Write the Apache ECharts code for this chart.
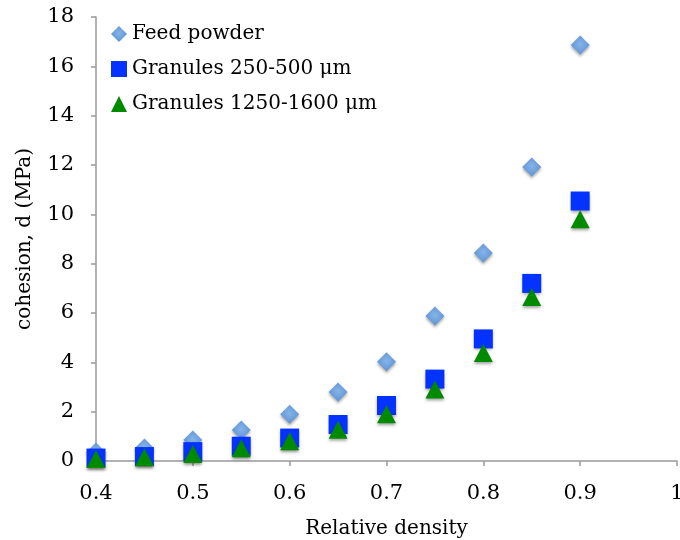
<!DOCTYPE html>
<html>
<head>
<meta charset="utf-8">
<script src="https://cdn.jsdelivr.net/npm/echarts@6/dist/echarts.min.js"></script>
<style>
  html, body { margin: 0; padding: 0; background: #ffffff; }
  #chart { width: 680px; height: 540px; }
</style>
</head>
<body>
<div id="chart"></div>
<script>
// Relative density (x) and cohesion d in MPa (y) for each material
const density = [0.4, 0.45, 0.5, 0.55, 0.6, 0.65, 0.7, 0.75, 0.8, 0.85, 0.9];
const feedPowder = [0.36, 0.53, 0.85, 1.26, 1.9, 2.8, 4.02, 5.88, 8.43, 11.92, 16.86];
const granules250 = [0.12, 0.18, 0.38, 0.6, 0.93, 1.48, 2.25, 3.32, 4.95, 7.2, 10.54];
const granules1250 = [0.08, 0.15, 0.28, 0.52, 0.8, 1.27, 1.9, 2.9, 4.38, 6.65, 9.8];
const seriesNames = ['Feed powder', 'Granules 250-500 μm', 'Granules 1250-1600 μm'];

const font = '"DejaVu Serif", "Liberation Serif", serif';
const pairs = ys => density.map((x, i) => [x, ys[i]]);
const shadow = { opacity: 1, shadowBlur: 3, shadowColor: 'rgba(0,0,0,0.35)', shadowOffsetY: 2 };

const chart = echarts.init(document.getElementById('chart'));
chart.setOption({
  animation: false,
  backgroundColor: '#ffffff',
  grid: { left: 96, right: 3, top: 17, bottom: 79, outerBoundsMode: 'none' },
  legend: {
    orient: 'vertical',
    left: 106,
    top: 19,
    itemWidth: 16,
    itemHeight: 16,
    itemGap: 15,
    textStyle: { fontFamily: font, fontSize: 20, color: '#000' },
    data: seriesNames
  },
  xAxis: {
    type: 'value',
    min: 0.4,
    max: 1,
    interval: 0.1,
    name: 'Relative density',
    nameLocation: 'middle',
    nameGap: 58,
    nameTextStyle: { fontFamily: font, fontSize: 20, color: '#000' },
    axisLine: { lineStyle: { color: '#999', width: 1.5 } },
    axisTick: { show: true, length: 5, lineStyle: { color: '#999', width: 1.5 } },
    axisLabel: { fontFamily: font, fontSize: 21, color: '#000', margin: 22 },
    splitLine: { show: false }
  },
  yAxis: {
    type: 'value',
    min: 0,
    max: 18,
    interval: 2,
    name: 'cohesion, d (MPa)',
    nameLocation: 'middle',
    nameGap: 61,
    nameTextStyle: { fontFamily: font, fontSize: 20, color: '#000' },
    axisLine: { show: true, lineStyle: { color: '#999', width: 1.5 } },
    axisTick: { show: true, length: 5, lineStyle: { color: '#999', width: 1.5 } },
    axisLabel: { fontFamily: font, fontSize: 21, color: '#000', margin: 22 },
    splitLine: { show: false }
  },
  series: [
    {
      name: seriesNames[0],
      type: 'scatter',
      symbol: 'diamond',
      symbolSize: 19,
      data: pairs(feedPowder),
      itemStyle: Object.assign({
        color: new echarts.graphic.RadialGradient(0.5, 0.45, 0.6, [
          { offset: 0, color: '#86B4E8' },
          { offset: 1, color: '#5B90D4' }
        ])
      }, shadow)
    },
    {
      name: seriesNames[1],
      type: 'scatter',
      symbol: 'rect',
      symbolSize: 19,
      data: pairs(granules250),
      itemStyle: Object.assign({ color: '#0433FF' }, shadow)
    },
    {
      name: seriesNames[2],
      type: 'scatter',
      symbol: 'triangle',
      symbolSize: [19, 18],
      data: pairs(granules1250),
      itemStyle: Object.assign({ color: '#008A00' }, shadow)
    }
  ]
});
</script>
</body>
</html>
